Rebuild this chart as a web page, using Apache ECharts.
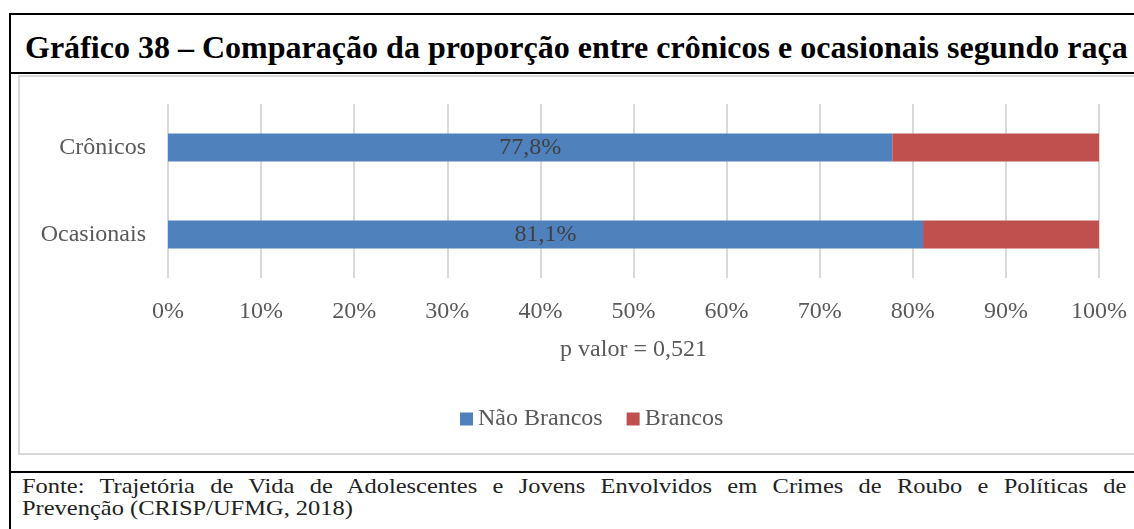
<!DOCTYPE html>
<html>
<head>
<meta charset="utf-8">
<script src="https://cdn.jsdelivr.net/npm/echarts@6/dist/echarts.min.js"></script>
<style>
  html, body { margin: 0; padding: 0; background: #fff; overflow: hidden; }
  .page { position: relative; width: 1134px; height: 529px; overflow: hidden; font-family: "Liberation Serif", serif; }
  .frame { position: absolute; left: 9px; top: 13px; width: 1300px; height: 700px; border: 2px solid #000; box-sizing: border-box; }
  .title-line { position: absolute; left: 9px; top: 72px; width: 1300px; height: 2px; background: #000; }
  .foot-line { position: absolute; left: 9px; top: 471px; width: 1300px; height: 2px; background: #000; }
  .chart-box { position: absolute; left: 18px; top: 75px; width: 1300px; height: 380px; border: 2px solid #d9d9d9; box-sizing: border-box; }
  .title { position: absolute; left: 25px; top: 31px; font-weight: bold; font-size: 30.5px; line-height: 34px; color: #000; white-space: nowrap; transform: scaleX(1.05); transform-origin: left top; }
  .fonte { position: absolute; left: 22px; top: 475px; width: 948px; font-size: 21px; line-height: 22px; color: #222; transform: scaleX(1.165); transform-origin: left top; }
  .fonte .l1 { text-align: justify; text-align-last: justify; }
  #myChart { position: absolute; left: 0; top: 0; width: 1134px; height: 529px; }
</style>
</head>
<body>
<div class="page">
  <div class="frame"></div>
  <div class="title-line"></div>
  <div class="foot-line"></div>
  <div class="chart-box"></div>
  <div class="title">Gráfico 38 – Comparação da proporção entre crônicos e ocasionais segundo raça</div>
  <div class="fonte">
    <div class="l1">Fonte: Trajetória de Vida de Adolescentes e Jovens Envolvidos em Crimes de Roubo e Políticas de</div>
    <div>Prevenção (CRISP/UFMG, 2018)</div>
  </div>
  <div id="myChart"></div>
</div>
<script>
  // categorias e valores (%)
  const categorias = ['Crônicos', 'Ocasionais']
  const naoBrancos = [77.8, 81.1]
  const brancos = [22.2, 18.9]
  const xTicks = [0, 10, 20, 30, 40, 50, 60, 70, 80, 90, 100]
  const legenda = ['Não Brancos', 'Brancos']
  const pValor = 'p valor = 0,521'

  const fonte = 'Liberation Serif'
  const myChart = echarts.init(document.getElementById('myChart'))
  myChart.setOption({
    backgroundColor: 'transparent',
    animation: false,
    legend: {
      data: legenda,
      left: 455,
      top: 402,
      itemWidth: 13,
      itemHeight: 13,
      itemGap: 24,
      icon: 'rect',
      textStyle: { fontFamily: fonte, fontSize: 24, color: '#595959' }
    },
    grid: { left: 168, right: 35, top: 104, bottom: 251 },
    xAxis: {
      type: 'value',
      min: xTicks[0],
      max: xTicks[xTicks.length - 1],
      interval: 10,
      name: pValor,
      nameLocation: 'middle',
      nameGap: 60,
      nameTextStyle: { fontFamily: fonte, fontSize: 24, color: '#595959' },
      axisLine: { show: false },
      axisTick: { show: false },
      splitLine: { show: true, lineStyle: { color: '#d9d9d9', width: 2 } },
      axisLabel: {
        margin: 22,
        fontFamily: fonte,
        fontSize: 24,
        color: '#595959',
        formatter: function(v) { return v + '%' }
      }
    },
    yAxis: {
      type: 'category',
      data: categorias,
      inverse: true,
      axisLine: { show: false },
      axisTick: { show: false },
      axisLabel: { margin: 22, fontFamily: fonte, fontSize: 24, color: '#595959' }
    },
    series: [{
      name: legenda[0],
      type: 'bar',
      stack: 'total',
      barWidth: 28,
      itemStyle: { color: '#4F81BD' },
      label: {
        show: true,
        position: 'inside',
        fontFamily: fonte,
        fontSize: 24,
        color: '#404040',
        formatter: function(p) { return p.value.toFixed(1).replace('.', ',') + '%' }
      },
      data: naoBrancos
    }, {
      name: legenda[1],
      type: 'bar',
      stack: 'total',
      barWidth: 28,
      itemStyle: { color: '#C0504D' },
      data: brancos
    }]
  })
</script>
</body>
</html>
